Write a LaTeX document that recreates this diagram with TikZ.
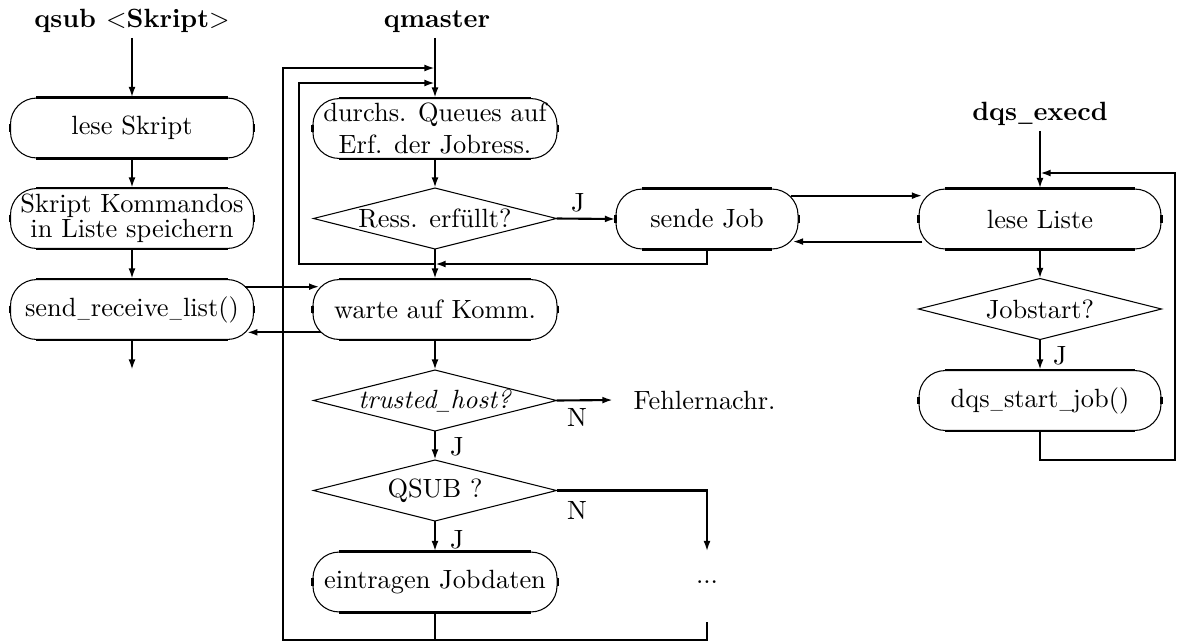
\documentclass[tikz,border=0pt]{standalone}
\usetikzlibrary{arrows.meta,calc}
\newcommand\usc{\kern0.04em\scalebox{0.62}[1]{\_}\kern0.04em}
\begin{document}
\begin{tikzpicture}[x=0.379pt,y=-0.379pt,
  conn/.style={line width=0.8pt},
  arr/.style={line width=0.8pt,-{Latex[length=4pt,width=2.6pt]}},
  ovalbox/.style={draw,line width=0.4pt,rounded corners=9.9pt,minimum height=22.7pt,inner sep=0pt,align=center},
  decbox/.style={minimum width=91.7pt,minimum height=22.7pt,inner sep=0pt,align=center},
  titletext/.style={font=\bfseries,anchor=base,inner sep=2pt},
  lbl/.style={inner sep=0pt}]
\useasboundingbox (0,0) rectangle (1178,642);

% titles
\node[titletext] (T1) at (132,27) {qsub $<$Skript$>$};
\node[titletext] (T2) at (437,27) {qmaster};
\node[titletext] (T3) at (1040,120) {dqs\usc execd};

% left column
\node[ovalbox,minimum width=92.1pt] (L1) at (132,128) {lese Skript};
\node[ovalbox,minimum width=92.1pt] (L2) at (132,218.5) {Skript Kommandos\\[-2.7pt]in Liste speichern};
\node[ovalbox,minimum width=92.1pt] (L3) at (132,309.5) {send\usc receive\usc list()};
\coordinate (Lend) at (132,370);

% middle column
\node[ovalbox,minimum width=92.5pt] (M1) at (435,128.5) {durchs. Queues auf\\Erf. der Jobress.};
\node[decbox] (D1) at (435,218.5) {Ress. erf\"ullt?};
\node[ovalbox,minimum width=92.5pt] (M2) at (435,309.5) {warte auf Komm.};
\node[decbox] (D2) at (435,400.5) {\textit{trusted\usc host?}};
\node[decbox] (D3) at (435,490.5) {QSUB ?};
\node[ovalbox,minimum width=92.5pt] (M3) at (435,582) {eintragen Jobdaten};
\node[decbox] (dots) at (707,582) {...};
\node[anchor=west,inner sep=0pt] (F) at (633,400) {Fehlernachr.};

% right part
\node[ovalbox,minimum width=69pt] (SJ) at (707,219) {sende Job};
\node[ovalbox,minimum width=91.7pt] (R1) at (1040,219) {lese Liste};
\node[decbox] (R2) at (1040,309) {Jobstart?};
\node[ovalbox,minimum width=91.7pt] (R3) at (1040,400.5) {dqs\usc start\usc job()};

% oval decorations (thick straight parts)
\foreach \n in {L1,L2,L3,M1,M2,M3,SJ,R1,R3}{
  \draw[line width=0.8pt] ([xshift=9.9pt]\n.north west) -- ([xshift=-9.9pt]\n.north east)
    ([xshift=9.9pt]\n.south west) -- ([xshift=-9.9pt]\n.south east)
    ([yshift=1.5pt]\n.west) -- ([yshift=-1.5pt]\n.west)
    ([yshift=1.5pt]\n.east) -- ([yshift=-1.5pt]\n.east);
}
% diamonds
\foreach \n in {D1,D2,D3,R2}{
  \draw[line width=0.4pt] (\n.west) -- (\n.north) -- (\n.east) -- (\n.south) -- cycle;
}

% labels
\node[lbl] (J1) at (578,203) {J};
\node[lbl] (N2) at (577,417) {N};
\node[lbl] (J2) at (457,447) {J};
\node[lbl] (N3) at (577,510) {N};
\node[lbl] (J3) at (457,540) {J};
\node[lbl] (J4) at (1060,356) {J};

% left connectors
\draw[arr] (T1) -- (L1);
\draw[arr] (L1) -- (L2);
\draw[arr] (L2) -- (L3);
\draw[arr] (L3) -- (Lend);
\draw[arr] ([xshift=-3.4pt,yshift=-2.9pt]L3.north east) -- ([xshift=2.7pt,yshift=-2.9pt]M2.north west);
\draw[arr] ([xshift=3.4pt,yshift=2.9pt]M2.south west) -- ([xshift=-2.7pt,yshift=2.9pt]L3.south east);

% middle connectors
\draw[arr] (T2.south -| M1.north) -- (M1.north);
\draw[arr] (M1) -- (D1);
\draw[arr] (D1) -- (M2);
\draw[arr] (D1.east) -- (SJ.west);
\draw[arr] (M2) -- (D2);
\draw[arr] (D2) -- (D3);
\draw[arr] (D3) -- (M3);
\draw[arr] (D2.east) -- ([xshift=-7.6pt]F.west);
\draw[arr] (D3.east) -| (dots.north);

% outer loop
\coordinate (ob) at (283,640);
\coordinate (ot) at (283,68);
\draw[arr] (M3.south) |- (ob) -- (ot) -- (ot -| M1.north);
\coordinate (dend) at (707,622);
\draw[conn] (dend) |- (M3.south |- ob);

% inner loop
\coordinate (ib) at (299,264);
\coordinate (it) at (299,83);
\draw[arr] (SJ.south) |- (M1.north |- ib);
\draw[arr] (M1.north |- ib) -- (ib) -- (it) -- (it -| M1.north);

% sende Job <-> lese Liste
\draw[arr] ([xshift=-3pt,yshift=-2.7pt]SJ.north east) -- ([xshift=1.5pt,yshift=-2.7pt]R1.north west);
\draw[arr] ([xshift=1.5pt,yshift=3pt]R1.south west) -- ([xshift=-2.3pt,yshift=3pt]SJ.south east);

% right column
\draw[arr] (T3) -- (R1);
\draw[arr] (R1) -- (R2);
\draw[arr] (R2) -- (R3);
\coordinate (rb) at (1175,460);
\coordinate (rt) at (1175,173);
\draw[arr] (R3.south) |- (rb) -- (rt) -- (rt -| R1.north);
\end{tikzpicture}
\end{document}
